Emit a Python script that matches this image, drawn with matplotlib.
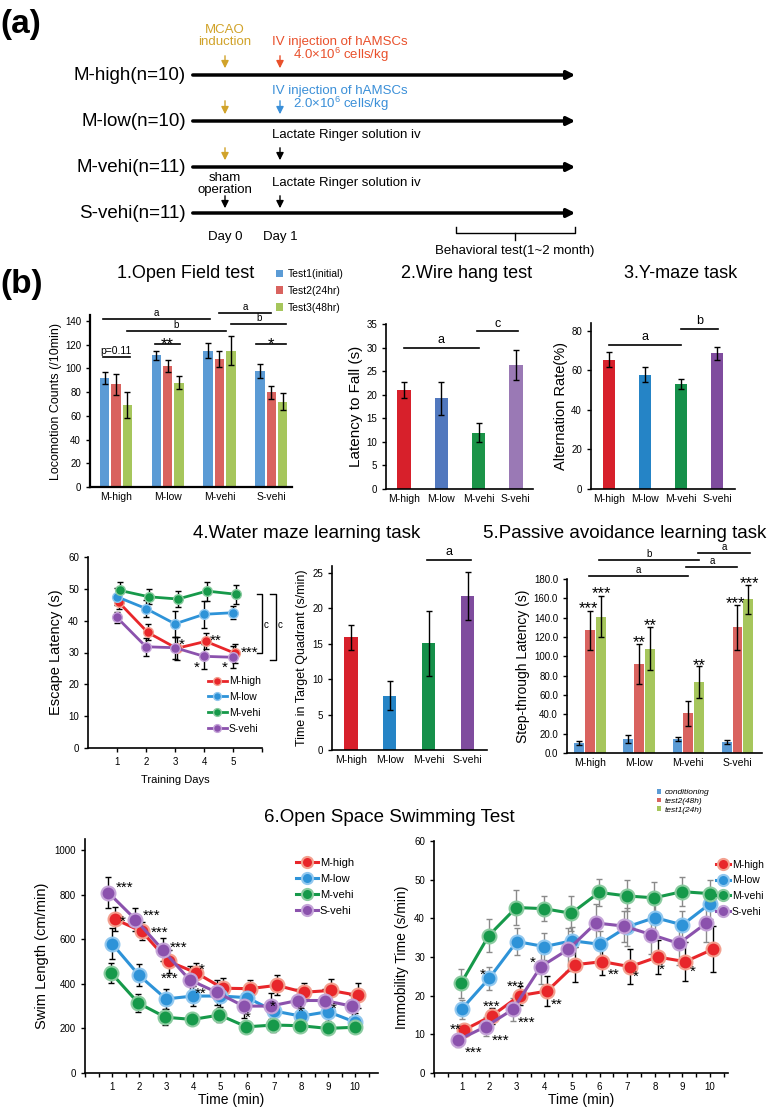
import numpy as np
import matplotlib.pyplot as plt

plt.rcParams['font.family'] = ['Liberation Sans', 'DejaVu Sans']
plt.rcParams['mathtext.default'] = 'regular'

groups = ['M-high', 'M-low', 'M-vehi', 'S-vehi']
timeline_groups = ['M-high(n=10)', 'M-low(n=10)', 'M-vehi(n=11)', 'S-vehi(n=11)']

# 1. open field
of_labels = ['Test1(initial)', 'Test2(24hr)', 'Test3(48hr)']
of_test1 = [92, 111, 115, 98]
of_test1_err = [5, 4, 6.5, 6]
of_test2 = [86.5, 102, 108, 80]
of_test2_err = [9, 5, 6.5, 5.5]
of_test3 = [69, 88, 115, 72]
of_test3_err = [11, 5.5, 12.5, 7]

# 2. wire hang
wh_mean = [21.0, 19.2, 11.9, 26.3]
wh_err = [1.8, 3.6, 2.0, 3.2]

# 3. y-maze
ym_mean = [65.5, 57.8, 53.3, 68.8]
ym_err = [3.8, 3.7, 2.6, 3.3]

# 4. water maze
days = [1, 2, 3, 4, 5]
wm = {
    'M-high': ([45.8, 36.3, 31.3, 33.5, 29.8], [2.0, 2.5, 3.5, 2.5, 3.0]),
    'M-low': ([47.5, 43.8, 39.0, 42.0, 42.5], [2.7, 2.8, 4.0, 4.3, 2.0]),
    'M-vehi': ([49.5, 47.5, 46.8, 49.3, 48.3], [2.8, 2.3, 2.5, 3.0, 3.0]),
    'S-vehi': ([41.0, 31.8, 31.5, 28.8, 28.5], [1.8, 2.8, 3.5, 4.0, 3.5]),
}
tq_mean = [15.9, 7.7, 15.1, 21.7]
tq_err = [1.7, 2.0, 4.6, 3.4]

# 5. passive avoidance
pa_labels = ['conditioning', 'test2(48h)', 'test1(24h)']
pa_cond = [10, 14.5, 14.5, 11.5]
pa_cond_err = [2, 4.5, 2.5, 2]
pa_test2 = [127, 92, 41, 130]
pa_test2_err = [20, 21, 13, 23]
pa_test1 = [141, 108, 73.5, 159]
pa_test1_err = [21, 22, 17, 15]

# 6. open space swimming
minutes = [1, 2, 3, 4, 5, 6, 7, 8, 9, 10]
swim = {
    'M-high': ([690, 635, 500, 450, 380, 378, 393, 362, 370, 348],
               [55, 40, 50, 45, 45, 40, 45, 40, 50, 55]),
    'M-low': ([580, 438, 332, 345, 345, 338, 278, 255, 275, 228],
              [70, 50, 45, 45, 50, 40, 40, 35, 40, 40]),
    'M-vehi': ([447, 313, 250, 240, 260, 207, 215, 212, 200, 205],
               [45, 40, 35, 20, 30, 20, 30, 30, 20, 20]),
    'S-vehi': ([808, 688, 553, 418, 362, 300, 300, 325, 325, 300],
               [70, 50, 50, 60, 55, 55, 60, 50, 50, 50]),
}
immob = {
    'M-high': ([11.2, 14.8, 20.0, 21.2, 28.0, 28.8, 27.5, 30.0, 28.8, 32.0],
               [1.5, 2.0, 2.5, 4.0, 4.5, 3.5, 4.5, 4.5, 5.0, 6.0]),
    'M-low': ([16.5, 24.5, 34.0, 32.7, 34.2, 33.3, 37.8, 40.2, 38.3, 43.8],
              [2.5, 3.0, 3.5, 3.5, 3.5, 3.5, 5.0, 4.0, 3.5, 4.0]),
    'M-vehi': ([23.2, 35.5, 42.8, 42.5, 41.3, 46.7, 45.8, 45.3, 46.9, 46.4],
               [3.7, 4.2, 4.5, 3.2, 4.5, 3.5, 4.0, 4.0, 3.8, 3.5]),
    'S-vehi': ([8.5, 12.0, 16.5, 27.5, 32.0, 38.8, 38.0, 35.8, 33.5, 38.8],
               [1.7, 2.5, 3.0, 4.5, 5.5, 5.0, 4.0, 5.0, 5.5, 5.0]),
}

W, H = 772, 1107
fig = plt.figure(figsize=(W / 100, H / 100), dpi=100)

# overlay in pixel coordinates for the schematic and headings
ov = fig.add_axes([0, 0, 1, 1])
ov.set_xlim(0, W)
ov.set_ylim(H, 0)
ov.axis('off')


def place(l, t, r, b):
    ax = fig.add_axes([l / W, 1 - b / H, (r - l) / W, (b - t) / H])
    ax.set_facecolor('none')
    ax.spines[['top', 'right']].set_visible(False)
    ax.spines[['left', 'bottom']].set_linewidth(1.2)
    ax.tick_params(labelsize=7, length=3, width=1)
    return ax


def sig(ax, x1, x2, y, label, gap, fs=8):
    ax.plot([x1, x2], [y, y], color='k', lw=1.2, clip_on=False)
    ax.text((x1 + x2) / 2, y + gap, label, ha='center', va='bottom',
            fontsize=fs, clip_on=False)


def star(ax, x, y, s, fs=12):
    # puts the centre of the asterisk glyphs at (x, y)
    ax.annotate(s, (x, y), xytext=(0, -0.58 * fs), textcoords='offset points',
                ha='center', va='baseline', fontsize=fs, annotation_clip=False)


# ---------------- (a) schematic ----------------
gold = '#d1a32a'
red_t = '#e9502b'
blue_t = '#3a8fd8'
ov.text(0, 25, '(a)', fontsize=24, fontweight='bold', va='center')
line_y = [75, 121, 167, 213]
for name, y in zip(timeline_groups, line_y):
    ov.text(186, y, name, ha='right', va='center', fontsize=13.5)
    ov.annotate('', xy=(578, y), xytext=(190, y),
                arrowprops=dict(arrowstyle='-|>', lw=2.5, color='k', mutation_scale=12))


def arrow(x, y0, y1, c):
    ov.annotate('', xy=(x, y1), xytext=(x, y0),
                arrowprops=dict(arrowstyle='-|>', lw=1, color=c, mutation_scale=11))


arrow(225, 53, 71, gold)
arrow(280, 53, 71, red_t)
arrow(225, 98, 117, gold)
arrow(280, 98, 117, blue_t)
arrow(225, 145, 163, gold)
arrow(280, 145, 163, 'k')
arrow(225, 193, 211, 'k')
arrow(280, 193, 211, 'k')
fs_a = 9.5
ov.text(225, 36, 'MCAO\ninduction', color=gold, ha='center', va='center', fontsize=fs_a,
        linespacing=1.1)
ov.text(272, 42, 'IV injection of hAMSCs', color=red_t, va='center', fontsize=fs_a)
ov.text(293, 55, '4.0×10$^6$ cells/kg', color=red_t, va='center', fontsize=fs_a)
ov.text(272, 91, 'IV injection of hAMSCs', color=blue_t, va='center', fontsize=fs_a)
ov.text(293, 104, '2.0×10$^6$ cells/kg', color=blue_t, va='center', fontsize=fs_a)
ov.text(272, 135, 'Lactate Ringer solution iv', va='center', fontsize=fs_a)
ov.text(272, 183, 'Lactate Ringer solution iv', va='center', fontsize=fs_a)
ov.text(225, 184, 'sham\noperation', ha='center', va='center', fontsize=fs_a, linespacing=1.1)
ov.text(225, 237, 'Day 0', ha='center', va='center', fontsize=fs_a)
ov.text(280, 237, 'Day 1', ha='center', va='center', fontsize=fs_a)
ov.plot([456, 456, 575, 575], [227, 233, 233, 227], color='k', lw=1)
ov.plot([515, 515], [233, 240], color='k', lw=1)
ov.text(515, 251, 'Behavioral test(1~2 month)', ha='center', va='center', fontsize=fs_a)

# ---------------- (b) headings ----------------
ov.text(0, 285, '(b)', fontsize=24, fontweight='bold', va='center')
ov.text(186, 273, '1.Open Field test', ha='center', va='center', fontsize=13)
ov.text(467, 273, '2.Wire hang test', ha='center', va='center', fontsize=13)
ov.text(681, 273, '3.Y-maze task', ha='center', va='center', fontsize=13)
ov.text(307, 533, '4.Water maze learning task', ha='center', va='center', fontsize=13.5)
ov.text(625, 533, '5.Passive avoidance learning task', ha='center', va='center', fontsize=13.5)
ov.text(389, 817, '6.Open Space Swimming Test', ha='center', va='center', fontsize=13.5)

x4 = np.arange(4)
bar_red, bar_blue, bar_green = '#d9635f', '#5b9bd5', '#a6c65c'
ekw = dict(elinewidth=1, capthick=1, ecolor='k')

# ---------------- 1. open field ----------------
ax = place(90, 315, 292, 487)
for off, v, e, c, lab in zip([-0.22, 0, 0.22], [of_test1, of_test2, of_test3],
                             [of_test1_err, of_test2_err, of_test3_err],
                             [bar_blue, bar_red, bar_green], of_labels):
    ax.bar(x4 + off, v, 0.18, yerr=e, color=c, capsize=2.5, error_kw=ekw, label=lab)
ax.set_xlim(-0.5, 3.4)
ax.set_ylim(0, 145)
ax.set_yticks(range(0, 141, 20))
ax.set_xticks(x4)
ax.set_xticklabels(groups, fontsize=7.5)
ax.tick_params(axis='x', length=0)
ax.spines[['left', 'bottom']].set_linewidth(1.6)
ax.set_ylabel('Locomotion Counts (/10min)', fontsize=9, labelpad=2)
sig(ax, -0.25, 1.81, 141.6, 'a', 0.5, 7)
sig(ax, 0.21, 2.13, 131.5, 'b', 0.5, 7)
sig(ax, 2.0, 3.0, 146.7, 'a', 0.5, 7)
sig(ax, 2.23, 3.29, 137.4, 'b', 0.5, 7)
sig(ax, 0.75, 1.23, 120.6, '', 0)
sig(ax, 2.71, 3.29, 120.6, '', 0)
star(ax, 0.99, 124.5, '**', 12)
star(ax, 3.0, 124.5, '*', 12)
sig(ax, -0.25, 0.27, 109.6, 'p=0.11', 1, 7.5)
ax.legend(loc='upper left', bbox_to_anchor=(276 / W, 1 - 269 / H), bbox_transform=fig.transFigure,
          frameon=False, fontsize=7.5, handlelength=0.7, handleheight=0.7,
          handletextpad=0.4, labelspacing=0.65, borderpad=0, borderaxespad=0)

# ---------------- 2. wire hang ----------------
ax = place(386, 324, 533, 489)
ax.bar(x4, wh_mean, 0.36, yerr=wh_err, color=['#d7202b', '#5178be', '#1b9448', '#9a79b5'],
       capsize=2.5, error_kw=ekw)
ax.set_xlim(-0.48, 3.46)
ax.set_ylim(0, 35)
ax.set_yticks(range(0, 36, 5))
ax.set_xticks(x4)
ax.set_xticklabels(groups, fontsize=7.5)
ax.tick_params(axis='x', length=0)
ax.set_ylabel('Latency to Fall (s)', fontsize=11, labelpad=2)
sig(ax, 0, 2, 30, 'a', 0.3, 9)
sig(ax, 1.95, 3.05, 33.5, 'c', 0.3, 9)

# ---------------- 3. y-maze ----------------
ax = place(591, 323, 735, 489)
ax.bar(x4, ym_mean, 0.35, yerr=ym_err, color=['#d7202b', '#2584c6', '#15904a', '#7f4c9e'],
       capsize=2.5, error_kw=ekw)
ax.set_xlim(-0.5, 3.5)
ax.set_ylim(0, 84)
ax.set_yticks(range(0, 81, 20))
ax.set_xticks(x4)
ax.set_xticklabels(groups, fontsize=7.5)
ax.tick_params(axis='x', length=0)
ax.set_ylabel('Alternation Rate(%)', fontsize=10.5, labelpad=2)
sig(ax, 0, 2, 72.9, 'a', 0.8, 9)
sig(ax, 2, 3.03, 81, 'b', 0.8, 9)

# ---------------- 4. water maze ----------------
line_colors = {'M-high': '#e8262a', 'M-low': '#2e93d8', 'M-vehi': '#16994a', 'S-vehi': '#8b52ad'}
edge_colors = {'M-high': '#f3a08f', 'M-low': '#92c8ef', 'M-vehi': '#8acb9f', 'S-vehi': '#c5a4d8'}
wm_dodge = {'M-high': 0.06, 'M-low': 0.0, 'M-vehi': 0.1, 'S-vehi': 0.0}

ax = place(88, 557, 262, 748)
for g in groups:
    y, e = wm[g]
    x = np.array(days) + wm_dodge[g]
    ax.errorbar(x, y, yerr=e, fmt='none', ecolor='k', elinewidth=1, capsize=2.5, capthick=1, zorder=2)
    ax.plot(x, y, '-o', color=line_colors[g], mec=edge_colors[g], mew=1, ms=7, lw=2,
            label=g, zorder=3)
ax.set_xlim(0, 6)
ax.set_ylim(0, 60)
ax.set_yticks(range(0, 61, 10))
ax.set_xticks([1, 2, 3, 4, 5, 6])
ax.set_xticklabels(['1', '2', '3', '4', '5', ''])
ax.set_ylabel('Escape Latency (s)', fontsize=10.5, labelpad=4)
ax.set_xlabel('Training Days', fontsize=8, labelpad=6)
for bx0, bx1, ytop, ybot, tx in [(5.83, 6.0, 48.4, 29.8, 6.14), (6.28, 6.48, 48.4, 27.6, 6.62)]:
    ax.plot([bx0, bx1, bx1, bx0], [ytop, ytop, ybot, ybot], color='k', lw=1, clip_on=False)
    ax.text(tx, 38.6, 'c', fontsize=7, ha='center', va='center', clip_on=False)
for sx, sy, s in [(3.24, 33.9, '*'), (4.41, 35.2, '**'), (5.58, 31.4, '***'),
                  (3.76, 26.7, '*'), (4.72, 26.7, '*')]:
    star(ax, sx, sy, s, 11)
ax.legend(loc='upper left', bbox_to_anchor=(0.69, 0.375), frameon=False, fontsize=7.5,
          handlelength=1.8, labelspacing=0.55, handletextpad=0.2, markerscale=0.8,
          borderpad=0, borderaxespad=0)

# target quadrant
ax = place(332, 566, 487, 750)
ax.bar(x4, tq_mean, 0.34, yerr=tq_err, color=['#d7202b', '#2584c6', '#15904a', '#7f4c9e'],
       capsize=2.5, error_kw=ekw)
ax.set_xlim(-0.49, 3.5)
ax.set_ylim(0, 26)
ax.set_yticks(range(0, 26, 5))
ax.set_xticks(x4)
ax.set_xticklabels(groups, fontsize=7.5)
ax.tick_params(axis='x', length=0)
ax.set_ylabel('Time in Target Quadrant (s/min)', fontsize=9, labelpad=3)
sig(ax, 1.95, 3.1, 26.8, 'a', 0.4, 9)

# ---------------- 5. passive avoidance ----------------
ax = place(567, 579, 762, 753)
for off, v, e, c, lab in zip([-0.22, 0, 0.22], [pa_cond, pa_test2, pa_test1],
                             [pa_cond_err, pa_test2_err, pa_test1_err],
                             [bar_blue, bar_red, bar_green], pa_labels):
    ax.bar(x4 + off, v, 0.2, yerr=e, color=c, capsize=2.5, error_kw=ekw, label=lab)
ax.set_xlim(-0.47, 3.5)
ax.set_ylim(0, 180)
ax.set_yticks(range(0, 181, 20))
ax.set_yticklabels([f'{t:.1f}' for t in range(0, 181, 20)])
ax.set_xticks(x4)
ax.set_xticklabels(groups, fontsize=7.5)
ax.tick_params(axis='x', length=0)
ax.set_ylabel('Step-through Latency (s)', fontsize=10, labelpad=3)
for gi, off, y, s in [(0, -0.03, 155, '***'), (0, 0.24, 170, '***'), (1, 0, 120, '**'),
                      (1, 0.22, 137.5, '**'), (2, 0.22, 96, '**'), (3, -0.03, 160, '***'),
                      (3, 0.24, 181, '***')]:
    star(ax, gi + off, y, s, 12)
sig(ax, -0.02, 2.0, 183, 'a', 1, 7)
sig(ax, 0.18, 2.22, 200, 'b', 1, 7)
sig(ax, 1.96, 3.0, 192, 'a', 1, 7)
sig(ax, 2.2, 3.25, 207, 'a', 1, 7)
ax.legend(loc='upper left', bbox_to_anchor=(657 / W, 1 - 789 / H),
          bbox_transform=fig.transFigure, frameon=False,
          prop={'size': 6, 'style': 'italic'}, handlelength=0.5, handleheight=0.5,
          handletextpad=0.4, labelspacing=0.15, borderpad=0, borderaxespad=0)

# ---------------- 6. swimming ----------------
sw_dodge = {'M-high': 0.1, 'M-low': 0.0, 'M-vehi': -0.02, 'S-vehi': -0.13}


def swim_panel(ax, data, ecols, fs, hl):
    for g in groups:
        y, e = data[g]
        x = np.array(minutes) + sw_dodge[g]
        ax.errorbar(x, y, yerr=e, fmt='none', ecolor=ecols[g], elinewidth=1, capsize=2.5,
                    capthick=1, zorder=2)
        ax.plot(x, y, '-o', color=line_colors[g], mec=edge_colors[g], mew=1.5, ms=10, lw=2.2,
                label=g, zorder=3)
    ax.set_xticks(minutes)
    ax.set_xticks(np.arange(0, 11, 0.5), minor=True)
    ax.tick_params(which='both', length=3, width=1)
    ax.set_xlabel('Time (min)', fontsize=10, labelpad=1)
    ax.legend(loc='upper left', frameon=False, fontsize=fs, handlelength=hl,
              labelspacing=0.55, handletextpad=0.15, markerscale=0.8, borderpad=0,
              borderaxespad=0)


ax = place(85, 839, 378, 1073)
swim_panel(ax, swim, {g: 'k' for g in groups}, 8, 2.0)
ax.set_xlim(0, 10.85)
ax.set_ylim(0, 1049)
ax.set_yticks(range(0, 1001, 200))
ax.set_ylabel('Swim Length (cm/min)', fontsize=10.5, labelpad=4)
ax.get_legend().set_bbox_to_anchor((0.72, 0.92))
for sx, sy, s in [(1.45, 852, '***'), (1.4, 700, '*'), (2.45, 725, '***'), (2.75, 652, '***'),
                  (3.45, 583, '***'), (3.15, 444, '***'), (4.33, 484, '*'), (4.3, 377, '**'),
                  (6.04, 269, '*'), (6.96, 318, '*'), (8.0, 296, '*'), (9.22, 309, '*')]:
    star(ax, sx, sy, s, 11)

ax = place(434, 841, 728, 1073)
swim_panel(ax, immob, {'M-high': 'k', 'M-low': '#8a8a8a', 'M-vehi': '#8a8a8a', 'S-vehi': '#8a8a8a'},
           7.5, 1.4)
ax.set_xlim(0, 10.65)
ax.set_ylim(0, 60)
ax.set_yticks(range(0, 61, 10))
ax.set_ylabel('Immobility Time (s/min)', fontsize=10, labelpad=4)
ax.get_legend().set_bbox_to_anchor((0.958, 0.92))
for sx, sy, s in [(0.78, 12.4, '**'), (1.45, 6.5, '***'), (1.76, 26.6, '*'), (2.1, 18.4, '***'),
                  (2.4, 9.6, '***'), (2.96, 23.5, '***'), (3.35, 14.2, '***'), (3.58, 29.7, '*'),
                  (4.45, 18.9, '**'), (6.5, 26.6, '**'), (7.3, 26.1, '*'), (8.24, 27.9, '*'),
                  (9.36, 27.4, '*')]:
    star(ax, sx, sy, s, 11)

fig.savefig('out.png', dpi=100)
